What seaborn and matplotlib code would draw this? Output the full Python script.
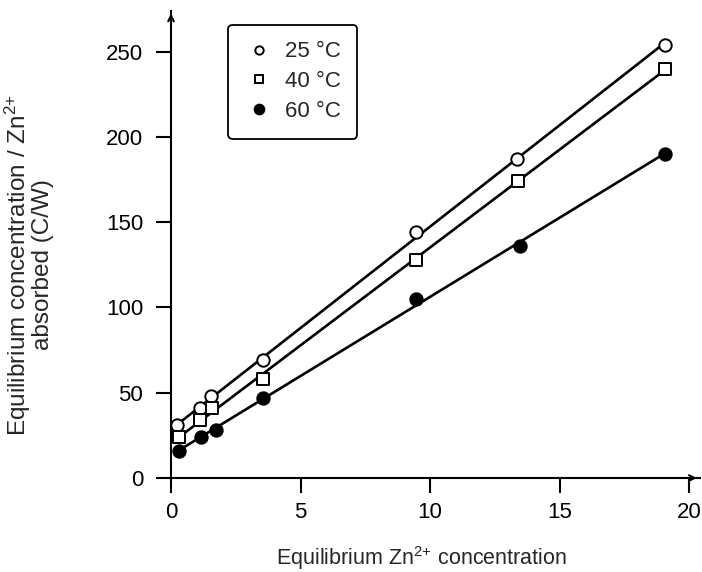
import numpy as np
import pandas as pd
import matplotlib
matplotlib.use("Agg")
import matplotlib.pyplot as plt
from matplotlib.lines import Line2D
import seaborn as sns

# readings
temps = ["25 °C", "40 °C", "60 °C"]
x_25 = [0.25, 1.1, 1.55, 3.55, 9.45, 13.35, 19.05]
y_25 = [31, 41, 48, 69, 144, 187, 254]
x_40 = [0.3, 1.1, 1.6, 3.55, 9.45, 13.4, 19.05]
y_40 = [24, 34, 41, 58, 128, 174, 240]
x_60 = [0.3, 1.15, 1.75, 3.55, 9.45, 13.45, 19.05]
y_60 = [16, 24, 28, 47, 105, 136, 190]

df = pd.concat([
    pd.DataFrame({"conc": x_25, "cw": y_25, "T": temps[0]}),
    pd.DataFrame({"conc": x_40, "cw": y_40, "T": temps[1]}),
    pd.DataFrame({"conc": x_60, "cw": y_60, "T": temps[2]}),
])

sns.set_style("ticks")
plt.rcParams["font.family"] = ["Liberation Sans", "DejaVu Sans"]
plt.rcParams["mathtext.fontset"] = "custom"
plt.rcParams["mathtext.rm"] = "Liberation Sans"
plt.rcParams["mathtext.it"] = "Liberation Sans"

fig = plt.figure(figsize=(7.02, 5.72), dpi=100)
ax = fig.add_axes([0.2436, 0.1643, 0.753, 0.817])

styles = {
    "25 °C": dict(marker="o", facecolor="white"),
    "40 °C": dict(marker="s", facecolor="white"),
    "60 °C": dict(marker="o", facecolor="black"),
}
for t in temps:
    sub = df[df["T"] == t]
    st = styles[t]
    sns.regplot(data=sub, x="conc", y="cw", ax=ax, ci=None, truncate=True,
                marker=st["marker"],
                scatter_kws=dict(s=80, facecolors=st["facecolor"], edgecolors="black",
                                 linewidths=1.4, zorder=3, alpha=1),
                line_kws=dict(color="black", lw=1.9, zorder=2))

ax.set_xlim(0, 20.4)
ax.set_ylim(0, 274)
ax.set_xticks([0, 5, 10, 15, 20])
ax.set_yticks([0, 50, 100, 150, 200, 250])
ax.tick_params(direction="out", length=11, width=1.5, labelsize=16, colors="black")
ax.tick_params(axis="x", pad=6)
ax.tick_params(axis="y", pad=9)
sns.despine(ax=ax)
for s in ["left", "bottom"]:
    ax.spines[s].set_linewidth(1.5)
    ax.spines[s].set_color("black")

# arrow heads on the axes
ax.annotate("", xy=(1.0, 0), xytext=(0.98, 0), xycoords="axes fraction",
            arrowprops=dict(arrowstyle="->", lw=1.5, color="black"), annotation_clip=False)
ax.annotate("", xy=(0, 1.0), xytext=(0, 0.98), xycoords="axes fraction",
            arrowprops=dict(arrowstyle="->", lw=1.5, color="black"), annotation_clip=False)

ax.set_xlabel("Equilibrium Zn$^{2{+}}$ concentration", fontsize=15.5)
ax.xaxis.set_label_coords(0.474, -0.142)
ax.set_ylabel("Equilibrium concentration / Zn$^{2{+}}$\nabsorbed (C/W)", fontsize=17.5,
              linespacing=0.95)
ax.yaxis.set_label_coords(-0.222, 0.456)

handles = [
    Line2D([], [], ls="none", marker="o", mfc="white", mec="black", ms=6, mew=1.4),
    Line2D([], [], ls="none", marker="s", mfc="white", mec="black", ms=6, mew=1.4),
    Line2D([], [], ls="none", marker="o", mfc="black", mec="black", ms=7, mew=1.4),
]
leg = ax.legend(handles, temps, loc="upper left", bbox_to_anchor=(0.108, 0.97),
                fontsize=16, frameon=True, fancybox=True, edgecolor="black",
                handletextpad=0.5, labelspacing=0.4, borderpad=0.75, handlelength=1.3,
                borderaxespad=0)
leg.get_frame().set_linewidth(1.3)
leg.get_frame().set_alpha(1)

fig.savefig("out.png", dpi=100)
